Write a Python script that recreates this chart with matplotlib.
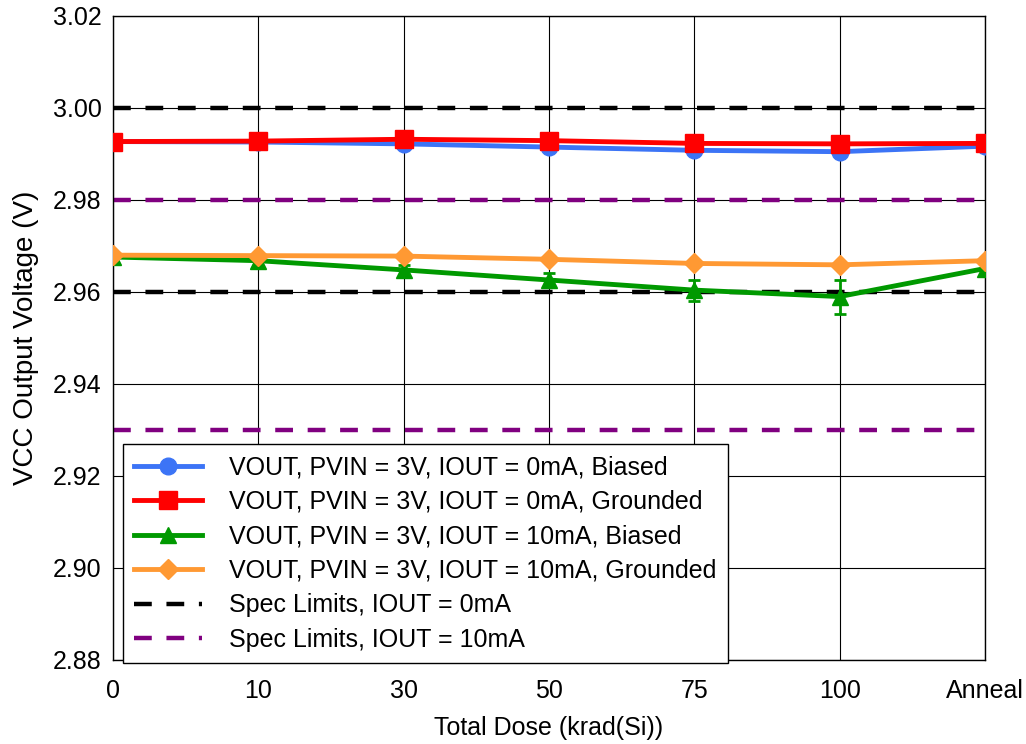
import numpy as np
import matplotlib.pyplot as plt

plt.rcParams['font.family'] = ['Liberation Sans', 'DejaVu Sans']

doses = ['0', '10', '30', '50', '75', '100', 'Anneal']
vout_0ma_biased = [2.9927, 2.9926, 2.9922, 2.9915, 2.9908, 2.9905, 2.9917]
vout_0ma_grounded = [2.9927, 2.9928, 2.9932, 2.9929, 2.9923, 2.9922, 2.9923]
vout_10ma_biased = [2.9676, 2.9668, 2.9648, 2.9626, 2.9604, 2.9590, 2.9651]
vout_10ma_biased_err = [0.0, 0.0, 0.0011, 0.0016, 0.0023, 0.0037, 0.0]
vout_10ma_grounded = [2.9680, 2.9679, 2.9678, 2.9671, 2.9662, 2.9659, 2.9668]
spec_0ma = [3.00, 2.96]
spec_10ma = [2.98, 2.93]

x = np.arange(len(doses))

fig = plt.figure(figsize=(10.26, 7.44), dpi=100)
ax = fig.add_axes([0.110, 0.113, 0.850, 0.8655])

dash = (0, (4, 3.3))
for i, y in enumerate(spec_0ma):
    ax.plot(x, [y] * len(x), color='black', lw=3.2, ls=dash,
            label='Spec Limits, IOUT = 0mA' if i == 0 else None, zorder=2)
for i, y in enumerate(spec_10ma):
    ax.plot(x, [y] * len(x), color='#800080', lw=3.2, ls=dash,
            label='Spec Limits, IOUT = 10mA' if i == 0 else None, zorder=2)

ax.plot(x, vout_0ma_biased, color='#3C74F6', lw=3.5, marker='o', ms=12,
        label='VOUT, PVIN = 3V, IOUT = 0mA, Biased', zorder=3)
ax.plot(x, vout_0ma_grounded, color='#FF0000', lw=3.5, marker='s', ms=13,
        label='VOUT, PVIN = 3V, IOUT = 0mA, Grounded', zorder=4)
ax.errorbar(x, vout_10ma_biased, yerr=vout_10ma_biased_err, color='#009900', lw=0,
            capsize=4, elinewidth=2, capthick=2, zorder=3)
ax.plot(x, vout_10ma_biased, color='#009900', lw=3.5, marker='^', ms=12,
        label='VOUT, PVIN = 3V, IOUT = 10mA, Biased', zorder=3)
ax.plot(x, vout_10ma_grounded, color='#FF9933', lw=3.5, marker='D', ms=10,
        label='VOUT, PVIN = 3V, IOUT = 10mA, Grounded', zorder=4)

ax.set_xlim(0, 6)
ax.set_ylim(2.88, 3.02)
ax.set_xticks(x)
ax.set_xticklabels(doses)
ax.set_yticks(np.arange(2.88, 3.0201, 0.02))
ax.yaxis.set_major_formatter(plt.FormatStrFormatter('%.2f'))
ax.tick_params(length=0, labelsize=18, pad=8)
ax.tick_params(axis='x', pad=14)
ax.grid(True, color='black', lw=0.8)
for s in ax.spines.values():
    s.set_color('black')
    s.set_linewidth(1)

ax.set_xlabel('Total Dose (krad(Si))', fontsize=18, labelpad=9)
ax.set_ylabel('VCC Output Voltage (V)', fontsize=20, labelpad=10)

handles, labels = ax.get_legend_handles_labels()
wanted = ['VOUT, PVIN = 3V, IOUT = 0mA, Biased',
          'VOUT, PVIN = 3V, IOUT = 0mA, Grounded',
          'VOUT, PVIN = 3V, IOUT = 10mA, Biased',
          'VOUT, PVIN = 3V, IOUT = 10mA, Grounded',
          'Spec Limits, IOUT = 0mA',
          'Spec Limits, IOUT = 10mA']
hmap = dict(zip(labels, handles))
leg = ax.legend([hmap[l] for l in wanted], wanted,
                loc='lower left', bbox_to_anchor=(0.0115, -0.005), borderaxespad=0,
                fontsize=18, handlelength=2.7, handletextpad=1.1, labelspacing=0.42,
                fancybox=False, framealpha=1, edgecolor='black', borderpad=0.45)
leg.get_frame().set_linewidth(1)

fig.savefig('out.png', dpi=100)
